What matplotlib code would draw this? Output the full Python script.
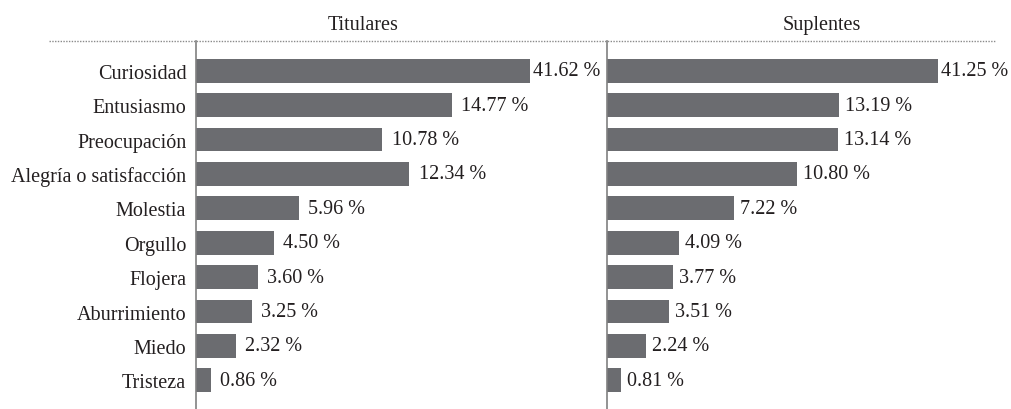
import matplotlib
matplotlib.use("Agg")
import matplotlib.pyplot as plt
from matplotlib.lines import Line2D

plt.rcParams['font.family'] = ['Liberation Serif', 'DejaVu Serif']

categories = ["Curiosidad", "Entusiasmo", "Preocupación", "Alegría o satisfacción",
              "Molestia", "Orgullo", "Flojera", "Aburrimiento", "Miedo", "Tristeza"]
titulares = [41.62, 14.77, 10.78, 12.34, 5.96, 4.50, 3.60, 3.25, 2.32, 0.86]
suplentes = [41.25, 13.19, 13.14, 10.80, 7.22, 4.09, 3.77, 3.51, 2.24, 0.81]
panel_titles = ["Titulares", "Suplentes"]

W, H = 1012, 410
fig = plt.figure(figsize=(W / 100, H / 100), dpi=100)

bar_color = '#6b6c70'
text_color = '#231f20'
axis_color = '#808080'
fs = 14.5

top_px = 42
row0_px = 71.7
spacing_px = 34.4
ytop = -(row0_px - top_px) / spacing_px
ybot = (H - row0_px) / spacing_px

panels = [
    (196, 334, 17.3, titulares, 6.5, True),
    (607, 331, 17.6, suplentes, 4.3, False),
]

for (x0, wpx, ppu, vals, off_pt, show_labels), title in zip(panels, panel_titles):
    ax = fig.add_axes([x0 / W, 0, wpx / W, (H - top_px) / H])
    xmax = wpx / ppu
    ypos = list(range(len(categories)))
    ax.barh(ypos, vals, height=0.69, color=bar_color, zorder=2)
    ax.set_xlim(0, xmax)
    ax.set_ylim(ybot, ytop)
    for s in ['top', 'right', 'bottom']:
        ax.spines[s].set_visible(False)
    ax.spines['left'].set_color(axis_color)
    ax.spines['left'].set_linewidth(1.2)
    ax.spines['left'].set_zorder(3)
    ax.set_xticks([])
    ax.set_yticks(ypos)
    if show_labels:
        ax.set_yticklabels(categories, fontsize=fs, color=text_color)
    else:
        ax.set_yticklabels([])
    ax.tick_params(axis='y', length=0, pad=7)
    for y, v in zip(ypos, vals):
        if v > xmax:
            xe, off = xmax, 2.0
        else:
            xe, off = v, off_pt
        ax.annotate(f"{v:.2f} %", xy=(xe, y), xytext=(off, 0), textcoords='offset points',
                    va='center', ha='left', fontsize=fs, color=text_color,
                    annotation_clip=False)

fig.text(363 / W, 1 - 30 / H, panel_titles[0], ha='center', va='baseline',
         fontsize=fs, color=text_color)
fig.text(822 / W, 1 - 30 / H, panel_titles[1], ha='center', va='baseline',
         fontsize=fs, color=text_color)

fig.add_artist(Line2D([49 / W, 996 / W], [1 - 41.5 / H, 1 - 41.5 / H],
                      transform=fig.transFigure, color='#8a8a8a', linewidth=1.0,
                      linestyle=(0, (1, 1))))

fig.savefig("out.png", dpi=100, facecolor='white')
